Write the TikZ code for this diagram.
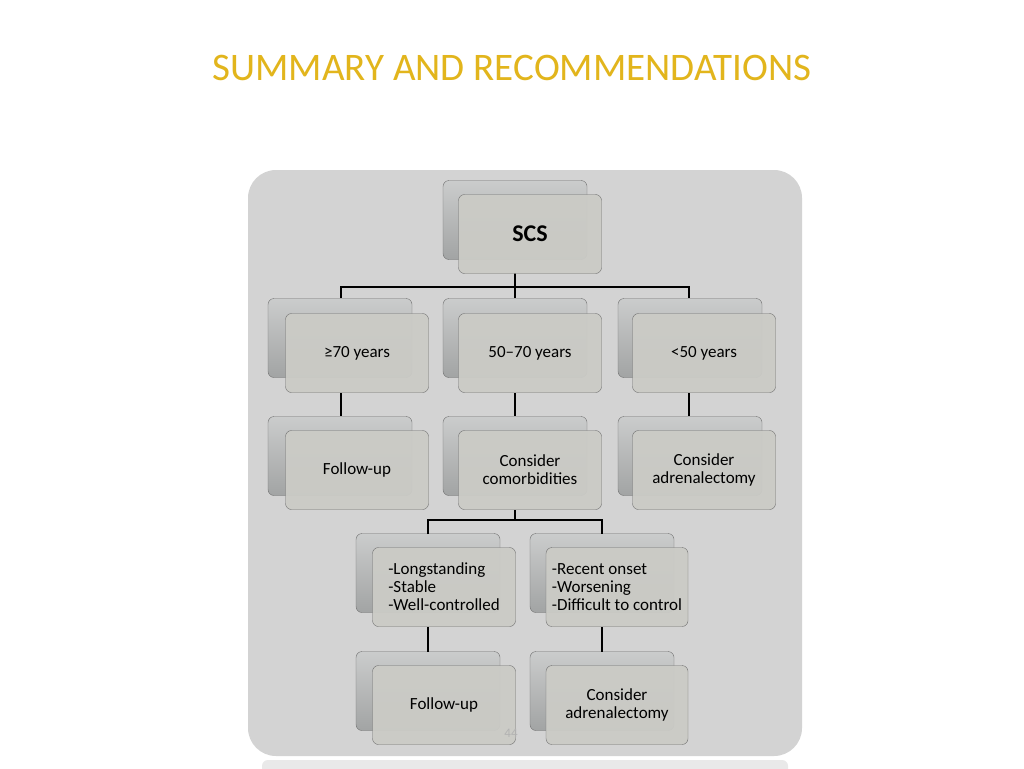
\documentclass[tikz,border=0pt]{standalone}
\usepackage{fontspec}
\setmainfont{Carlito}
\usetikzlibrary{positioning}
\definecolor{titlegold}{HTML}{E2B51C}
\definecolor{panelgray}{HTML}{D3D3D3}
\definecolor{backgray}{HTML}{B4B6B6}
\definecolor{frontgray}{HTML}{CBCBC6}
\definecolor{edgegray}{HTML}{6E6E6E}
\tikzset{
  backbox/.style={draw=edgegray, rounded corners=6pt, top color=backgray!70!white, bottom color=backgray!90!black, minimum width=144pt, minimum height=79pt},
  frontbox/.style={draw=edgegray, rounded corners=6pt, fill=frontgray, fill opacity=0.95, text opacity=1, minimum width=143pt, minimum height=79pt, align=center, font=\fontsize{17}{18}\selectfont},
  link/.style={line width=1.6pt, black}
}
\begin{document}
\begin{tikzpicture}[x=1pt,y=-1pt]
    \useasboundingbox[fill=white] (0,0) rectangle (1024,768);
    \node[text=titlegold, font=\fontsize{39}{42}\selectfont] (title) at (512,68) {SUMMARY AND RECOMMENDATIONS};
    \fill[panelgray, rounded corners=28pt] (248,170) rectangle (802,756);
    \fill[panelgray!50!white, rounded corners=6pt] (262,760) rectangle (788,775);

    % back boxes
    \node[backbox] (scsb) at (515,220) {};
    \node[backbox] (oldb) at (340,338) {};
    \node[backbox] (midb) at (515,338) {};
    \node[backbox] (youngb) at (690,338) {};
    \node[backbox] (fu1b) at (340,456) {};
    \node[backbox] (comb) at (515,456) {};
    \node[backbox] (adr1b) at (690,456) {};
    \node[backbox] (stabb) at (428,573) {};
    \node[backbox] (recb) at (602,573) {};
    \node[backbox] (fu2b) at (428,691) {};
    \node[backbox] (adr2b) at (602,691) {};

    % connectors
    \coordinate (s1) at (515,287);
    \coordinate (s2) at (515,520);
    \draw[link] (515,273) -- (s1);
    \draw[link] (341,298) |- (s1) -| (689,298);
    \draw[link] (s1) -- (515,298);
    \draw[link] (341,393) -- (341,416);
    \draw[link] (515,393) -- (515,416);
    \draw[link] (689,393) -- (689,416);
    \draw[link] (515,510) -- (s2);
    \draw[link] (428,534) |- (s2) -| (602,534);
    \draw[link] (428,627) -- (428,652);
    \draw[link] (602,627) -- (602,652);

    % front boxes
    \node[frontbox, font=\bfseries\fontsize{24}{26}\selectfont] (scs) at (530,234) {SCS};
    \node[frontbox] (old) at (357,353) {≥70 years};
    \node[frontbox] (mid) at (530,353) {50–70 years};
    \node[frontbox] (young) at (704,353) {<50 years};
    \node[frontbox] (fu1) at (357,470) {Follow-up};
    \node[frontbox] (com) at (530,470) {Consider\\comorbidities};
    \node[frontbox] (adr1) at (704,470) {Consider\\adrenalectomy};
    \node[frontbox, align=left] (stab) at (444,587) {-Longstanding\\-Stable\\-Well-controlled};
    \node[frontbox, align=left, minimum width=142pt] (rec) at (617,587) {-Recent onset\\-Worsening\\-Difficult to control};
    \node[frontbox] (fu2) at (444,705) {Follow-up};
    \node[frontbox, minimum width=142pt] (adr2) at (617,705) {Consider\\adrenalectomy};
    \node[text=gray!60, font=\fontsize{13}{13}\selectfont] (page) at (511,733) {44};
\end{tikzpicture}
\end{document}
